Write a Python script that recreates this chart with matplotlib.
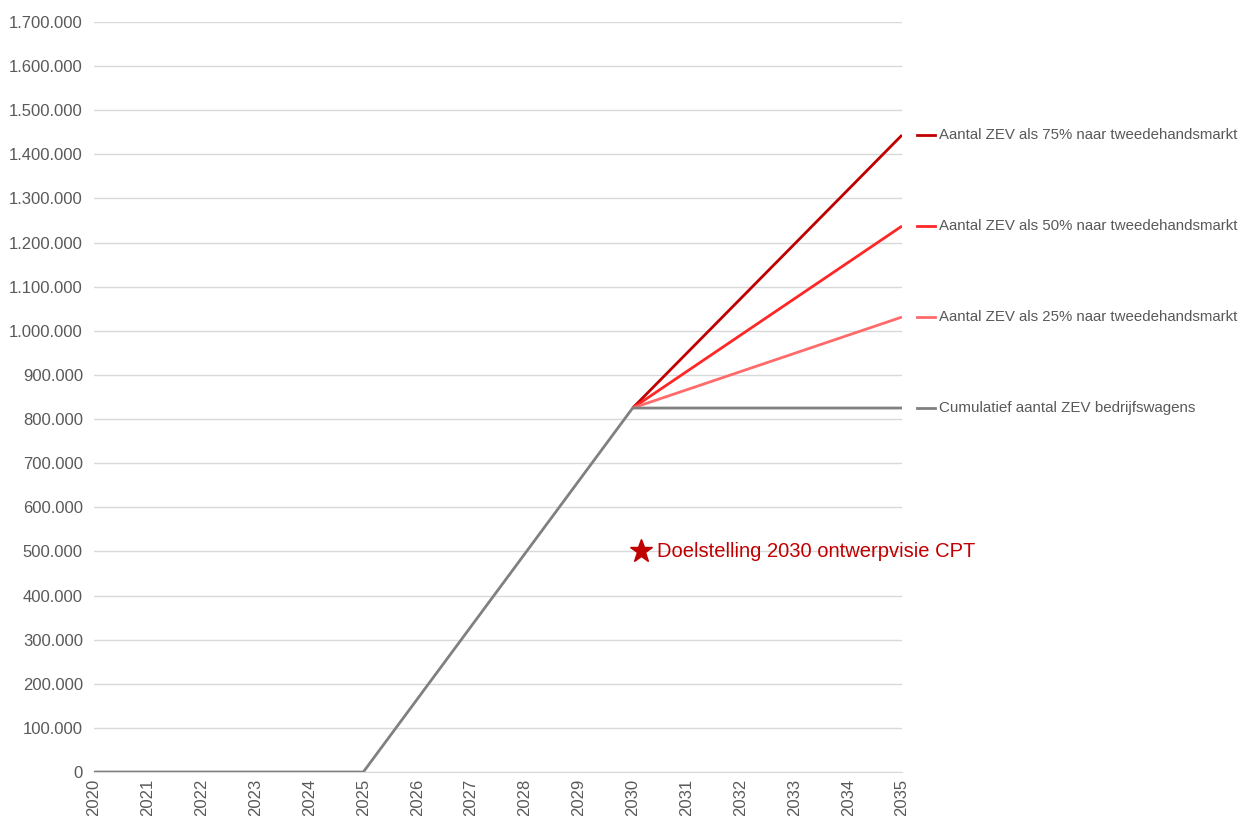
import matplotlib.pyplot as plt
import matplotlib.transforms as mtransforms

plt.rcParams['font.family'] = ['Liberation Sans', 'DejaVu Sans']

years = list(range(2020, 2036))

# cumulatief aantal ZEV bedrijfswagens (knikpunten van de lijn)
cum_years = [2020, 2025, 2030, 2035]
cum_values = [0, 0, 825000, 825000]

# scenario's tweedehandsmarkt vanaf 2030
scen_years = [2030, 2035]
scen_75 = [825000, 1443750]
scen_50 = [825000, 1237500]
scen_25 = [825000, 1031250]

target_year = 2030.15
target_value = 500000

series = [
    (scen_75, '#C00000', 'Aantal ZEV als 75% naar tweedehandsmarkt'),
    (scen_50, '#FF2626', 'Aantal ZEV als 50% naar tweedehandsmarkt'),
    (scen_25, '#FF6B6B', 'Aantal ZEV als 25% naar tweedehandsmarkt'),
]

fig = plt.figure(figsize=(12.43, 8.16), dpi=100)
ax = fig.add_axes([94 / 1243, 1 - 772 / 816, 808 / 1243, 750 / 816])

for vals, col, lab in series:
    ax.plot(scen_years, vals, color=col, lw=2, solid_capstyle='butt', zorder=3)
ax.plot(cum_years, cum_values, color='#808080', lw=2, solid_capstyle='butt', zorder=4)

# labels rechts van de lijnen
trans = mtransforms.blended_transform_factory(ax.transAxes, ax.transData)
labels = [(s[0][-1], s[1], s[2], 10.85) for s in series]
labels.append((cum_values[-1], '#808080', 'Cumulatief aantal ZEV bedrijfswagens', 10.9))
for yv, col, lab, fs in labels:
    ax.plot([1.0186, 1.0408], [yv, yv], color=col, lw=2, transform=trans, clip_on=False)
    ax.text(1.046, yv, lab, transform=trans, color='#595959', fontsize=fs,
            va='center', ha='left')

ax.plot(target_year, target_value, marker='*', color='#C00000', markersize=17,
        zorder=5, linestyle='none')
ax.text(target_year + 0.3, target_value, 'Doelstelling 2030 ontwerpvisie CPT',
        color='#C00000', fontsize=14.5, va='center', ha='left')

ax.set_xlim(2020, 2035)
ax.set_ylim(0, 1700000)
ax.set_xticks(years)
ax.set_xticklabels([str(y) for y in years], rotation=90)
yt = list(range(0, 1700001, 100000))
ax.set_yticks(yt)
ax.set_yticklabels([f'{v:,}'.replace(',', '.') for v in yt])
ax.tick_params(length=0, labelsize=12, labelcolor='#595959')
ax.tick_params(axis='y', pad=8)
ax.tick_params(axis='x', pad=5)
ax.grid(axis='y', color='#D9D9D9', lw=1)
ax.set_axisbelow(True)
for side in ['top', 'right', 'left']:
    ax.spines[side].set_visible(False)
ax.spines['bottom'].set_color('#D9D9D9')

fig.savefig('out.png', dpi=100)
